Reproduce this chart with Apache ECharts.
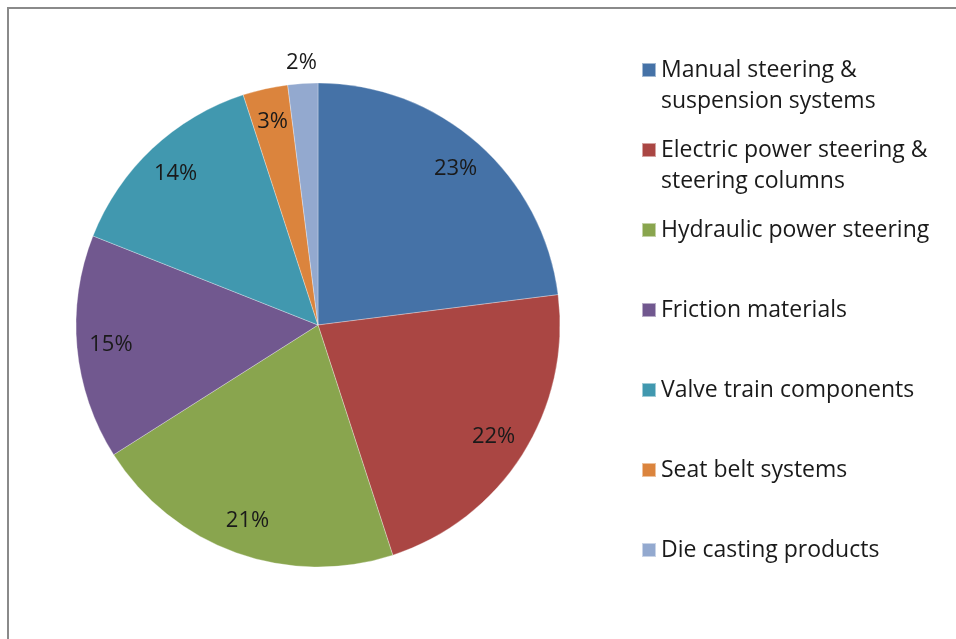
<!DOCTYPE html>
<html>
<head>
<meta charset="utf-8">
<script src="https://cdn.jsdelivr.net/npm/echarts@6/dist/echarts.min.js"></script>
<style>
html,body{margin:0;padding:0;background:#fff;}
#chart{width:956px;height:639px;}
</style>
</head>
<body>
<div id="chart"></div>
<script>
const categories = [
  'Manual steering &\nsuspension systems',
  'Electric power steering &\nsteering columns',
  'Hydraulic power steering',
  'Friction materials',
  'Valve train components',
  'Seat belt systems',
  'Die casting products'
];
const values = [23, 22, 21, 15, 14, 3, 2];
const colors = ['#4572A7', '#AA4643', '#89A54E', '#71588F', '#4198AF', '#DB843D', '#93A9CF'];

const FONT = 'Open Sans';
const FS = 23;
const cx = 318, cy = 325, R = 242;

const pieData = categories.map((c, i) => ({ name: c, value: values[i], itemStyle: { color: colors[i] } }));

const legends = categories.map((c, i) => {
  const iconC = 70 + 80 * i;
  const twoLine = c.indexOf('\n') >= 0;
  const boxH = twoLine ? 93 : 31;
  return {
    orient: 'vertical',
    left: 641,
    top: iconC - boxH / 2,
    padding: 0,
    icon: 'rect',
    itemWidth: 14,
    itemHeight: 14,
    itemGap: 0,
    selectedMode: false,
    data: [c],
    formatter: n => (n.indexOf('\n') >= 0 ? '\n' + n : n),
    textStyle: { fontFamily: FONT, fontSize: FS, color: '#1a1a1a', lineHeight: 31 }
  };
});

const chart = echarts.init(document.getElementById('chart'));
chart.setOption({
  animation: false,
  backgroundColor: '#fff',
  color: colors,
  legend: legends,
  graphic: [{
    type: 'rect',
    shape: { x: 8, y: 8, width: 1200, height: 900 },
    style: { fill: 'none', stroke: '#8a8a8a', lineWidth: 2 },
    silent: true
  }],
  series: [
    {
      type: 'pie',
      center: [cx, cy],
      radius: [0, R],
      startAngle: 90,
      clockwise: true,
      label: { show: false },
      labelLine: { show: false },
      itemStyle: { borderColor: 'rgba(255,255,255,0.5)', borderWidth: 0.6 },
      emphasis: { disabled: true },
      data: pieData
    },
    {
      type: 'pie',
      center: [cx, cy],
      radius: [170, 240],
      startAngle: 90,
      silent: true,
      legendHoverLink: false,
      itemStyle: { color: 'rgba(0,0,0,0)' },
      emphasis: { disabled: true },
      label: {
        show: true, position: 'inside', formatter: '{c}%',
        fontFamily: FONT, fontSize: FS - 1, color: '#1a1a1a'
      },
      labelLine: { show: false },
      data: pieData.map((d, i) => ({ name: d.name, value: d.value, label: { show: i < 6 } }))
    },
    {
      type: 'pie',
      center: [cx, cy],
      radius: [240, 280],
      startAngle: 90,
      silent: true,
      legendHoverLink: false,
      itemStyle: { color: 'rgba(0,0,0,0)' },
      emphasis: { disabled: true },
      label: {
        show: true, position: 'inside', formatter: '{c}%',
        fontFamily: FONT, fontSize: FS - 1, color: '#1a1a1a'
      },
      labelLine: { show: false },
      data: pieData.map((d, i) => ({ name: d.name, value: d.value, label: { show: i === 6 } }))
    }
  ]
});
</script>
</body>
</html>
